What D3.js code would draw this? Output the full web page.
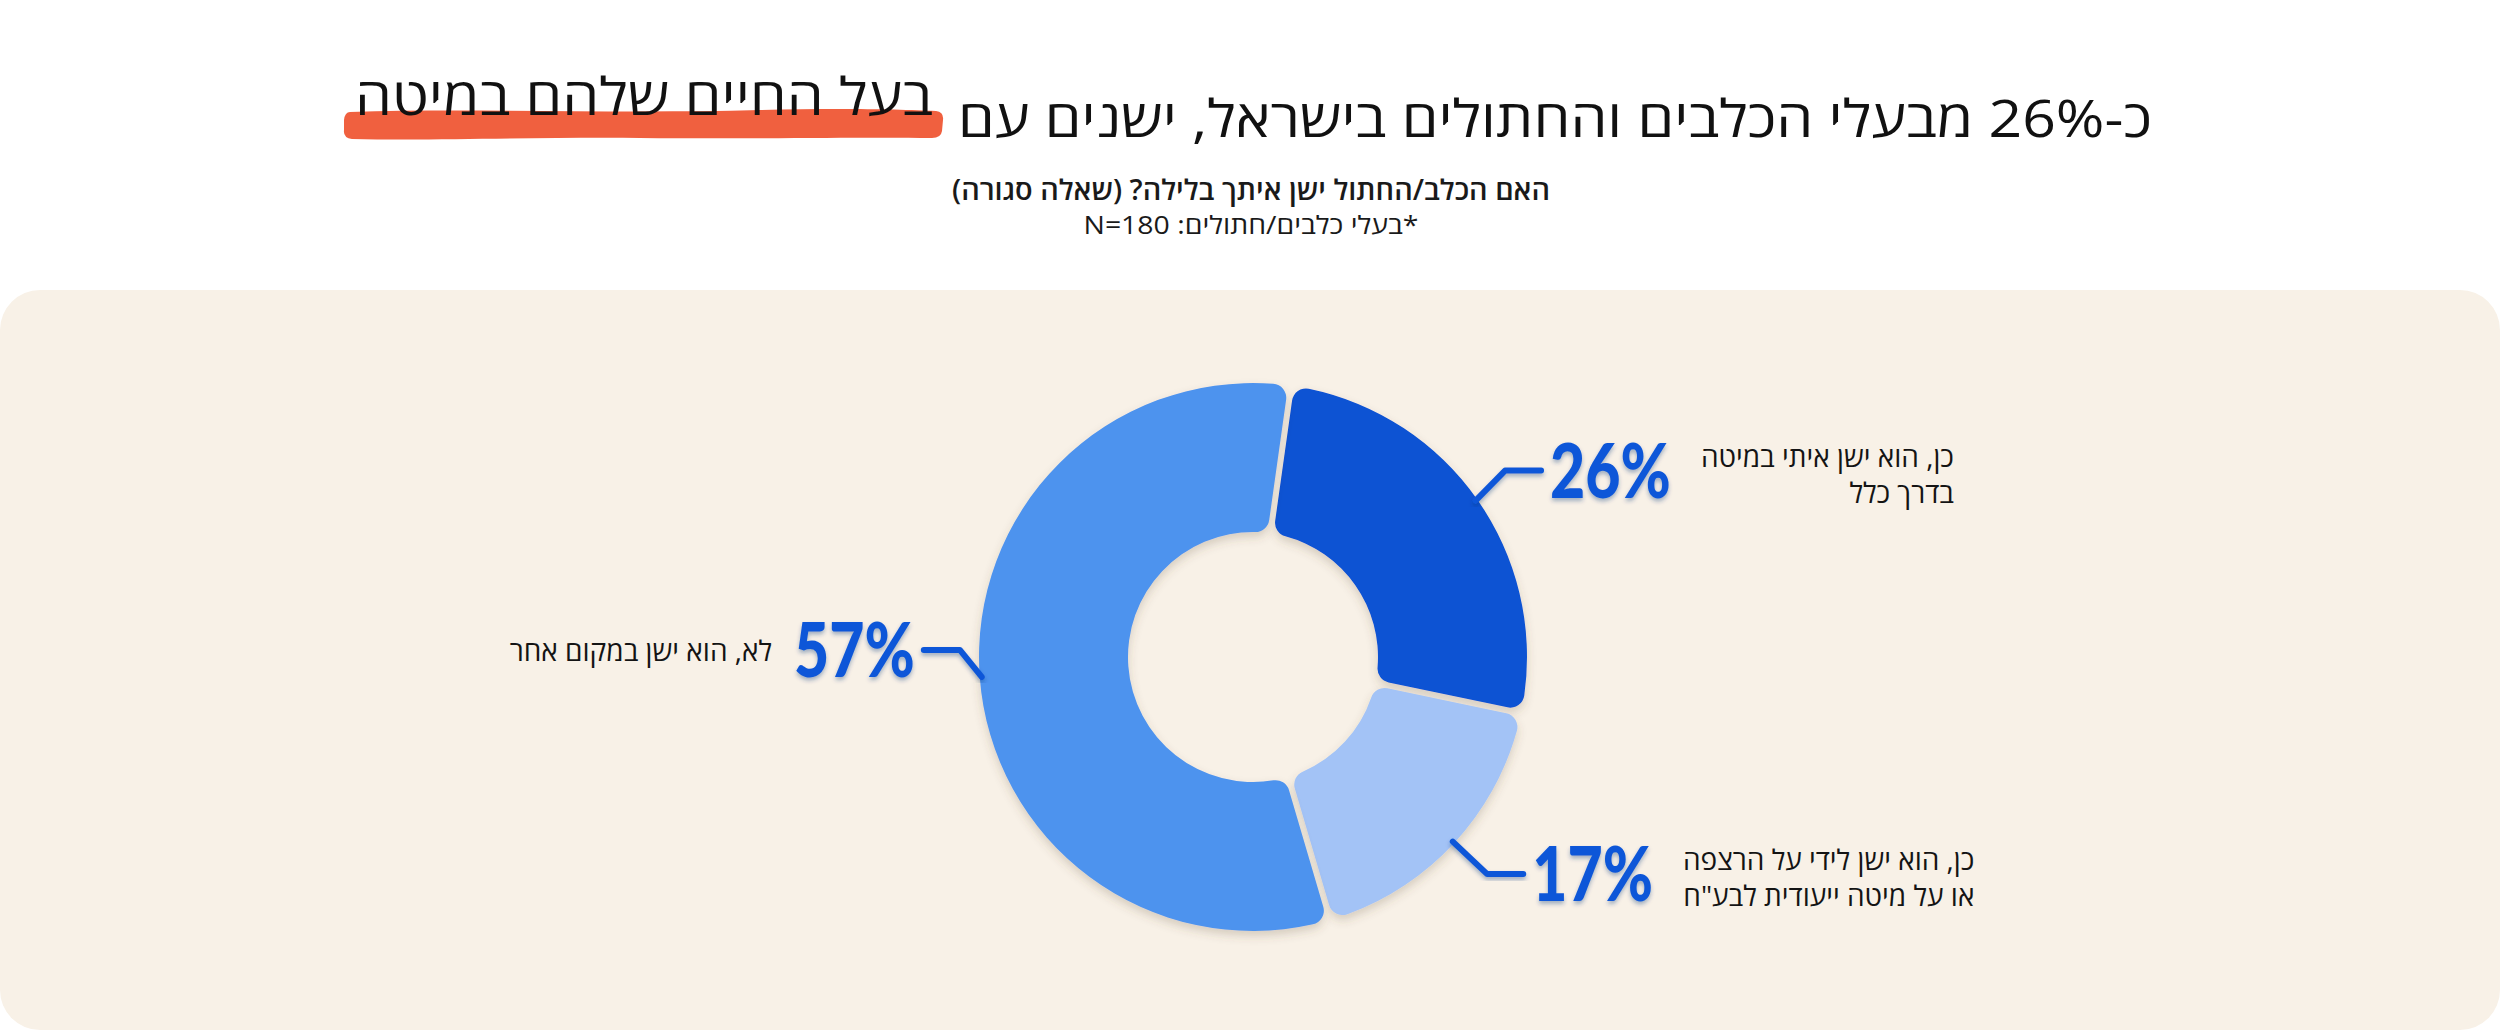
<!DOCTYPE html>
<html lang="he">
<head>
<meta charset="utf-8">
<script src="https://cdn.jsdelivr.net/npm/d3@7"></script>
<style>
  html, body { margin: 0; padding: 0; background: #ffffff; }
  svg { display: block; }
  text { font-family: "Open Sans", "Liberation Sans", "DejaVu Sans", sans-serif; }
  .pct { font-family: Lato, "Open Sans", sans-serif; font-weight: 900; }
</style>
</head>
<body>
<svg id="chart" width="2500" height="1030"></svg>
<script>
// data
const categories = [
  ["כן, הוא ישן איתי במיטה", "בדרך כלל"],
  ["כן, הוא ישן לידי על הרצפה", "או על מיטה ייעודית לבע\"ח"],
  ["לא, הוא ישן במקום אחר"]
];
const values = [26, 17, 57];
const sliceColors = ["#0753d3", "#a3c3f6", "#4e93ee"];

const titleMain = "כ-26% מבעלי הכלבים והחתולים בישראל, ישנים עם";
const titleMark = "בעל החיים שלהם במיטה";
const subtitle1 = "האם הכלב/החתול ישן איתך בלילה? (שאלה סגורה)";
const subtitle2 = "*בעלי כלבים/חתולים: N=180";

const W = 2500, H = 1030;
const cx = 1253, cy = 657;
const outerR = 274, innerR = 125;
const pctBlue = "#0f57d8";

const svg = d3.select("#chart");
const defs = svg.append("defs");

defs.append("filter").attr("id", "sliceShadow")
  .attr("x", "-20%").attr("y", "-20%").attr("width", "140%").attr("height", "140%")
  .append("feDropShadow")
  .attr("dx", 0).attr("dy", 5).attr("stdDeviation", 5)
  .attr("flood-color", "#5a4a30").attr("flood-opacity", 0.22);

defs.append("filter").attr("id", "pctShadow")
  .attr("x", "-20%").attr("y", "-20%").attr("width", "140%").attr("height", "140%")
  .append("feDropShadow")
  .attr("dx", 0).attr("dy", 3).attr("stdDeviation", 2)
  .attr("flood-color", "#06307a").attr("flood-opacity", 0.35);

// background panel
svg.append("rect")
  .attr("x", 0).attr("y", 290)
  .attr("width", W).attr("height", H - 290)
  .attr("rx", 40).attr("ry", 40)
  .attr("fill", "#f8f1e7");

// title
// brush stroke behind the highlighted words
svg.append("path")
  .attr("d", "M350,112 C470,108 620,114 760,110 C830,108 900,109 936,111 Q944,112 943,120 L942,131 Q941,138 932,138 C860,137 760,139 640,138 C540,137 430,141 352,139 Q343,138 344,130 L344,120 Q345,112 350,112 Z")
  .attr("fill", "#f0603f");

svg.append("text")
  .attr("x", 2152).attr("y", 137)
  .attr("direction", "rtl")
  .attr("text-anchor", "start")
  .attr("font-size", 52)
  .attr("fill", "#111111")
  .attr("textLength", 1194)
  .attr("lengthAdjust", "spacingAndGlyphs")
  .text(titleMain);

svg.append("text")
  .attr("x", 933).attr("y", 115)
  .attr("direction", "rtl")
  .attr("text-anchor", "start")
  .attr("font-size", 52)
  .attr("fill", "#111111")
  .attr("textLength", 578)
  .attr("lengthAdjust", "spacingAndGlyphs")
  .text(titleMark);

svg.append("text")
  .attr("x", 1251).attr("y", 200)
  .attr("direction", "rtl")
  .attr("text-anchor", "middle")
  .attr("font-size", 28)
  .attr("font-weight", 600)
  .attr("fill", "#1a1a1a")
  .attr("textLength", 598)
  .attr("lengthAdjust", "spacingAndGlyphs")
  .text(subtitle1);

svg.append("text")
  .attr("x", 1251).attr("y", 234)
  .attr("direction", "rtl")
  .attr("text-anchor", "middle")
  .attr("font-size", 25)
  .attr("fill", "#1a1a1a")
  .attr("textLength", 335)
  .attr("lengthAdjust", "spacingAndGlyphs")
  .text(subtitle2);

// donut
const startA = 8 * Math.PI / 180;
const pie = d3.pie().sort(null).value(d => d)
  .startAngle(startA).endAngle(startA + 2 * Math.PI)
  .padAngle(0.02);

const arc = d3.arc()
  .innerRadius(innerR).outerRadius(outerR)
  .cornerRadius(14);

const arcs = pie(values);

const g = svg.append("g").attr("transform", `translate(${cx},${cy})`);

g.selectAll(".slice")
  .data(arcs)
  .enter()
  .append("path")
  .attr("class", "slice")
  .attr("d", arc)
  .attr("fill", (d, i) => sliceColors[i])
  .attr("filter", "url(#sliceShadow)");

// labels with leader lines
const nudgeY = [-6, 4, -30];
const nudgeX = [0, 8, 14];
arcs.forEach((a, i) => {
  const mid = (a.startAngle + a.endAngle) / 2;
  const sx = Math.sin(mid), sy = -Math.cos(mid);
  const side = sx >= 0 ? 1 : -1;
  const p0 = [cx + sx * (outerR - 2), cy + sy * (outerR - 2)];
  const ly = cy + sy * (outerR + 40) + nudgeY[i];
  const p1 = [cx + sx * (outerR + 34) + nudgeX[i], ly];
  const p2 = [p1[0] + side * 36, ly];

  svg.append("path")
    .attr("d", d3.line()([p0, p1, p2]))
    .attr("fill", "none")
    .attr("stroke", pctBlue)
    .attr("stroke-width", 6)
    .attr("stroke-linecap", "round")
    .attr("stroke-linejoin", "round")
    .attr("filter", "url(#pctShadow)");

  const pct = svg.append("text")
    .attr("class", "pct")
    .attr("x", p2[0] + side * 9)
    .attr("y", ly)
    .attr("dy", "0.36em")
    .attr("text-anchor", side > 0 ? "start" : "end")
    .attr("font-size", 76)
    .attr("fill", pctBlue)
    .attr("filter", "url(#pctShadow)")
    .text(values[i] + "%");
  const natural = pct.node().getComputedTextLength();
  const pw = natural * 0.8;
  pct.attr("textLength", pw).attr("lengthAdjust", "spacingAndGlyphs");

  const lines = categories[i];
  const lt = svg.append("g");
  const tx = lt.selectAll("text")
    .data(lines)
    .enter()
    .append("text")
    .attr("direction", "rtl")
    .attr("font-size", 28)
    .attr("fill", "#141414")
    .attr("y", (d, j) => lines.length > 1 ? ly - 4 + j * 36 : ly + 11)
    .text(d => d);
  const maxW = d3.max(tx.nodes(), n => n.getComputedTextLength());
  const pctEdge = p2[0] + side * (9 + pw);
  // right-aligned block (RTL)
  const rightX = side > 0 ? pctEdge + 30 + maxW : pctEdge - 22;
  tx.attr("x", rightX).attr("text-anchor", "start");
});
</script>
</body>
</html>
